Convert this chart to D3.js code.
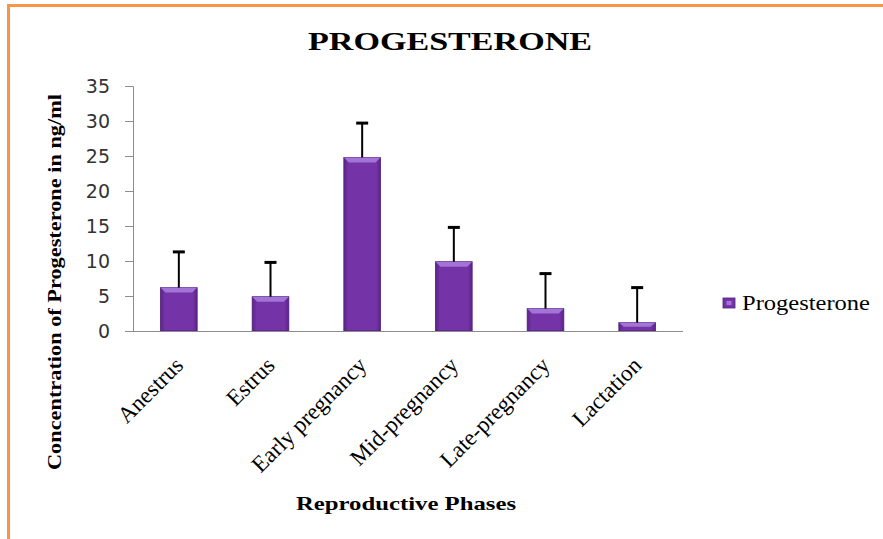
<!DOCTYPE html>
<html>
<head>
<meta charset="utf-8">
<script src="https://cdn.jsdelivr.net/npm/d3@7"></script>
<style>
  body { margin: 0; background: #fff; }
  svg { display: block; }
</style>
</head>
<body>
<div id="chart"></div>
<script>
// chart data
var phases = ["Anestrus", "Estrus", "Early pregnancy", "Mid-pregnancy", "Late-pregnancy", "Lactation"];
var progesterone = [6.2, 4.9, 24.8, 9.9, 3.2, 1.2];
var errorPlus = [5.1, 4.9, 4.9, 4.9, 5.0, 5.0];
var yTicks = [0, 5, 10, 15, 20, 25, 30, 35];

var width = 883,
    height = 539;
var serif = "Liberation Serif, Times New Roman, serif";

var svg = d3.select("#chart").append("svg")
    .attr("width", width)
    .attr("height", height);

// orange frame (right and bottom edges fall outside the picture)
svg.append("rect")
    .attr("x", 8.5).attr("y", 5.5)
    .attr("width", 900).attr("height", 560)
    .attr("fill", "none")
    .attr("stroke", "#f79646")
    .attr("stroke-width", 3);

var defs = svg.append("defs");
var grad = defs.append("linearGradient")
    .attr("id", "barGrad")
    .attr("x1", 0).attr("x2", 1).attr("y1", 0).attr("y2", 0);
grad.append("stop").attr("offset", "0%").attr("stop-color", "#5b2389");
grad.append("stop").attr("offset", "12%").attr("stop-color", "#7533a8");
grad.append("stop").attr("offset", "88%").attr("stop-color", "#7533a8");
grad.append("stop").attr("offset", "100%").attr("stop-color", "#5b2389");

var x = d3.scaleBand()
    .domain(phases)
    .range([133, 683])
    .paddingInner(0.6)
    .paddingOuter(0.3);

var y = d3.scaleLinear()
    .domain([0, 35])
    .range([331, 86]);

// title
svg.append("text")
    .attr("x", 450).attr("y", 50)
    .attr("text-anchor", "middle")
    .attr("font-family", serif)
    .attr("font-weight", "bold")
    .attr("font-size", 26)
    .attr("textLength", 284)
    .attr("lengthAdjust", "spacingAndGlyphs")
    .text("PROGESTERONE");

// y axis
var yAxis = svg.append("g")
    .attr("transform", "translate(133,0)")
    .call(d3.axisLeft(y).tickValues(yTicks).tickSize(8).tickPadding(15));
yAxis.select(".domain").attr("stroke", "#8c8c8c").attr("d", "M-8,86.5H0.5V331.5");
yAxis.selectAll(".tick line").attr("stroke", "#8c8c8c");
yAxis.selectAll(".tick text")
    .attr("font-family", "DejaVu Sans, Verdana, sans-serif")
    .attr("font-size", 19)
    .attr("fill", "#333");

// bars
var bars = svg.append("g");
bars.selectAll("rect.bar")
    .data(phases)
    .enter()
    .append("rect")
    .attr("class", "bar")
    .attr("x", function(d) { return x(d); })
    .attr("y", function(d, i) { return y(progesterone[i]); })
    .attr("width", x.bandwidth())
    .attr("height", function(d, i) { return y(0) - y(progesterone[i]); })
    .attr("fill", "url(#barGrad)")
    .attr("stroke", "#4e1d78")
    .attr("stroke-width", 0.8);

// top highlight bevel
bars.selectAll("path.bevel")
    .data(phases)
    .enter()
    .append("path")
    .attr("class", "bevel")
    .attr("d", function(d, i) {
        var x0 = x(d), x1 = x(d) + x.bandwidth(), yt = y(progesterone[i]);
        var h = Math.min(5, (y(0) - yt) / 2);
        return "M" + x0 + "," + yt + "H" + x1 + "L" + (x1 - 5) + "," + (yt + h) + "H" + (x0 + 5) + "Z";
    })
    .attr("fill", "#a274d6");

// error bars (plus only)
var err = svg.append("g");
err.selectAll("line.stem")
    .data(phases)
    .enter()
    .append("line")
    .attr("class", "stem")
    .attr("x1", function(d) { return x(d) + x.bandwidth() / 2; })
    .attr("x2", function(d) { return x(d) + x.bandwidth() / 2; })
    .attr("y1", function(d, i) { return y(progesterone[i]); })
    .attr("y2", function(d, i) { return y(progesterone[i] + errorPlus[i]); })
    .attr("stroke", "#000")
    .attr("stroke-width", 2);
err.selectAll("line.cap")
    .data(phases)
    .enter()
    .append("line")
    .attr("class", "cap")
    .attr("x1", function(d) { return x(d) + x.bandwidth() / 2 - 6; })
    .attr("x2", function(d) { return x(d) + x.bandwidth() / 2 + 6; })
    .attr("y1", function(d, i) { return y(progesterone[i] + errorPlus[i]); })
    .attr("y2", function(d, i) { return y(progesterone[i] + errorPlus[i]); })
    .attr("stroke", "#000")
    .attr("stroke-width", 3);

// x axis
var xAxis = svg.append("g")
    .attr("transform", "translate(0,331)")
    .call(d3.axisBottom(x).tickSize(0).tickPadding(0));
xAxis.select(".domain").attr("stroke", "#8c8c8c").attr("d", "M133,0.5H683");
xAxis.selectAll(".tick text")
    .attr("font-family", serif)
    .attr("font-size", 23)
    .attr("fill", "#000")
    .attr("text-anchor", "end")
    .attr("transform", "translate(0,30) rotate(-45)")
    .attr("dy", "0.35em");

// axis titles
svg.append("text")
    .attr("transform", "translate(61,282) rotate(-90)")
    .attr("text-anchor", "middle")
    .attr("font-family", serif)
    .attr("font-weight", "bold")
    .attr("font-size", 19)
    .attr("textLength", 376)
    .attr("lengthAdjust", "spacingAndGlyphs")
    .text("Concentration of Progesterone in ng/ml");

svg.append("text")
    .attr("x", 406).attr("y", 510)
    .attr("text-anchor", "middle")
    .attr("font-family", serif)
    .attr("font-weight", "bold")
    .attr("font-size", 19)
    .attr("textLength", 220)
    .attr("lengthAdjust", "spacingAndGlyphs")
    .text("Reproductive Phases");

// legend
var legend = svg.append("g").attr("transform", "translate(723,298)");
legend.append("rect")
    .attr("width", 12).attr("height", 10)
    .attr("fill", "#7533a8")
    .attr("stroke", "#4e1d78")
    .attr("stroke-width", 0.8);
legend.append("rect")
    .attr("x", 3.5).attr("y", 3).attr("width", 5).attr("height", 4)
    .attr("fill", "#a274d6");
legend.append("text")
    .attr("x", 19).attr("y", 12)
    .attr("font-family", serif)
    .attr("font-size", 22)
    .attr("textLength", 128)
    .attr("lengthAdjust", "spacingAndGlyphs")
    .text("Progesterone");
</script>
</body>
</html>
